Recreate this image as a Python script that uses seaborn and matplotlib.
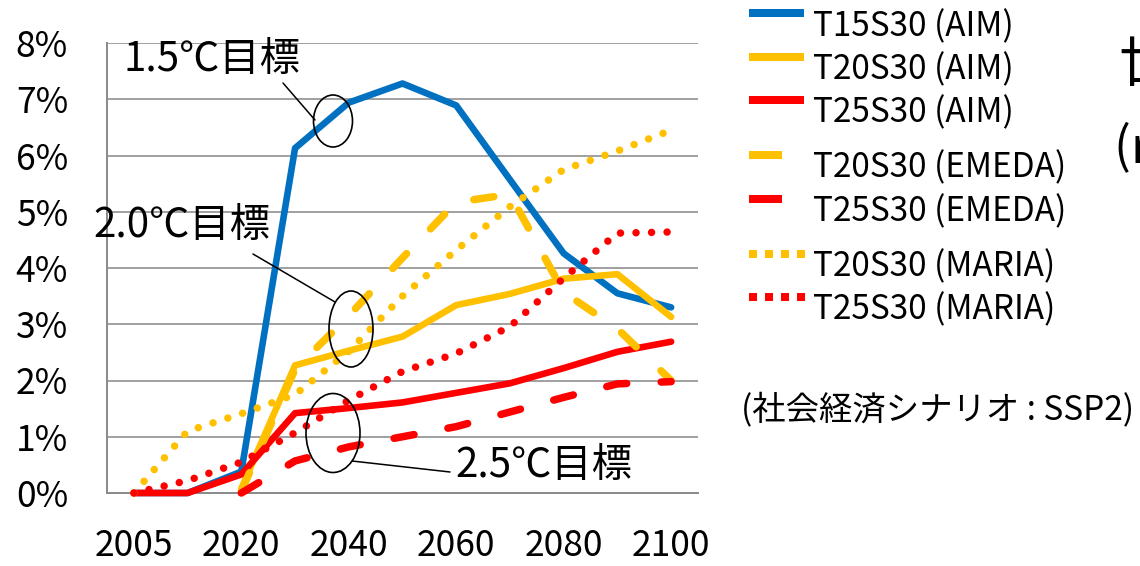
import numpy as np
import matplotlib
matplotlib.use("Agg")
import matplotlib.pyplot as plt
from matplotlib.lines import Line2D
from matplotlib.patches import Ellipse
import seaborn as sns

# ---- data -------------------------------------------------------------
years = ["2005", "2010", "2020", "2030", "2040", "2050",
         "2060", "2070", "2080", "2090", "2100"]
nan = np.nan
t15s30_aim = [0.0, 0.0, 0.38, 6.13, 6.94, 7.28, 6.89, 5.57, 4.26, 3.55, 3.30]
t20s30_aim = [nan, nan, 0.08, 2.27, 2.53, 2.78, 3.34, 3.54, 3.81, 3.89, 3.13]
t25s30_aim = [0.0, 0.0, 0.33, 1.42, 1.51, 1.61, 1.78, 1.95, 2.22, 2.51, 2.69]
t20s30_emeda = [nan, nan, 0.03, 2.20, 3.15, 4.18, 5.17, 5.31, 3.57, 2.92, 2.00]
t25s30_emeda = [nan, nan, 0.00, 0.57, 0.82, 1.00, 1.18, 1.44, 1.70, 1.94, 1.98]
t20s30_maria = [0.0, 1.10, 1.41, 1.75, 2.52, 3.50, 4.32, 5.09, 5.75, 6.08, 6.45]
t25s30_maria = [0.0, 0.22, 0.55, 1.07, 1.65, 2.16, 2.48, 2.96, 3.82, 4.62, 4.64]

series_labels = ["T15S30 (AIM)", "T20S30 (AIM)", "T25S30 (AIM)",
                 "T20S30 (EMEDA)", "T25S30 (EMEDA)",
                 "T20S30 (MARIA)", "T25S30 (MARIA)"]
y_ticks = [0, 1, 2, 3, 4, 5, 6, 7, 8]

BLUE, GOLD, RED = "#0070C0", "#FFC000", "#FF0000"

# ---- style ------------------------------------------------------------
sns.set_theme(style="white")
plt.rcParams["font.family"] = ["Noto Sans CJK JP", "DejaVu Sans"]

W, H = 1140, 566
fig = plt.figure(figsize=(W / 100, H / 100), dpi=100)
fig.patch.set_facecolor("white")


def fx(px):
    return px / W


def fy(py):
    return 1 - py / H


ax = fig.add_axes([fx(107), fy(493), fx(698) - fx(107), fy(43) - fy(493)])
ax.set_facecolor("white")

pos = np.arange(len(years))
PT = 0.72  # points per pixel at 100 dpi
solid_lw = 6.6 * PT
broken_lw = 7.5 * PT

specs = [
    (t15s30_aim, BLUE, "-", solid_lw),
    (t20s30_aim, GOLD, "-", solid_lw),
    (t25s30_aim, RED, "-", solid_lw),
    (t20s30_emeda, GOLD, (0, (2.7, 4.6)), broken_lw),
    (t25s30_emeda, RED, (0, (2.7, 4.6)), broken_lw),
    (t20s30_maria, GOLD, (0, (0.001, 2.07)), broken_lw),
    (t25s30_maria, RED, (0, (0.001, 2.07)), broken_lw),
]

for z, (vals, color, ls, lw) in enumerate(specs):
    sns.lineplot(x=pos, y=np.array(vals, dtype=float), ax=ax, color=color,
                 linestyle=ls, linewidth=lw, solid_capstyle="round",
                 solid_joinstyle="round", dash_capstyle="round",
                 legend=False, clip_on=False, zorder=3 + z, sort=False)

# ---- axes -------------------------------------------------------------
ax.set_xlim(-0.5, len(years) - 0.5)
ax.set_ylim(0, 8)
ax.set_yticks(y_ticks)
ax.set_yticklabels([f"{v}%" for v in y_ticks])
ax.set_xticks(pos[::2])
ax.set_xticklabels(years[::2])
ax.grid(axis="y", color="#8c8c8c", linewidth=1.6 * PT)
ax.grid(axis="x", visible=False)
ax.set_axisbelow(True)
for side in ["top", "right"]:
    ax.spines[side].set_visible(False)
for side in ["left", "bottom"]:
    ax.spines[side].set_color("#8c8c8c")
    ax.spines[side].set_linewidth(2 * PT)
ax.tick_params(axis="y", length=0, pad=28, labelsize=25.5, labelcolor="black")
ax.tick_params(axis="x", length=0, pad=25, labelsize=25.5, labelcolor="black")
ax.set_xlabel("")
ax.set_ylabel("")

# ---- target annotations ------------------------------------------------
def px2data(px, py):
    return ((px - 107) / (591 / 11) - 0.5, (493 - py) / (450 / 8))


for (cx, cy, w, h) in [(333, 121, 39, 52), (351, 329, 44, 76), (333, 433, 54, 79)]:
    dx, dy = px2data(cx, cy)
    ax.add_patch(Ellipse((dx, dy), w / (591 / 11), h / (450 / 8), fill=False,
                         edgecolor="black", linewidth=1.2, zorder=20,
                         clip_on=False))

for (x0, y0, x1, y1) in [(283, 83, 315, 120), (253, 254, 335, 302),
                         (352, 461, 450, 472)]:
    a = px2data(x0, y0)
    b = px2data(x1, y1)
    ax.add_line(Line2D([a[0], b[0]], [a[1], b[1]], color="black",
                       linewidth=1.1, zorder=20, clip_on=False))

for (tx, ty, txt) in [(212, 60, "1.5℃目標"), (182, 226, "2.0℃目標"),
                      (544, 466, "2.5℃目標")]:
    dx, dy = px2data(tx, ty)
    ax.text(dx, dy, txt, fontsize=29, ha="center", va="center",
            color="black", zorder=21)

# ---- legend -------------------------------------------------------------
legend_rows = [
    (13, 27, BLUE, "solid", 804),
    (57, 70, GOLD, "solid", 804),
    (100, 113, RED, "solid", 804),
    (155, 168, GOLD, "dash", 782),
    (199, 212, RED, "dash", 782),
    (254, 267, GOLD, "dot", 805),
    (297, 310, RED, "dot", 805),
]
leg_lw = 8 * PT
for (ly, ty, color, kind, xend), label in zip(legend_rows, series_labels):
    line = Line2D([fx(749), fx(xend)], [fy(ly), fy(ly)], color=color,
                  linewidth=leg_lw, solid_capstyle="butt",
                  dash_capstyle="butt", transform=fig.transFigure)
    if kind == "dot":
        line.set_linestyle((0, (1, 1)))
    fig.add_artist(line)
    fig.text(fx(813), fy(ty), label, fontsize=24, ha="left", va="center",
             color="black")

fig.text(fx(741), fy(410), "(社会経済シナリオ : SSP2)", fontsize=24,
         ha="left", va="center", color="black")

# chart heading on the right
fig.text(fx(1118), fy(66), "世界GDP損失率", fontsize=40, ha="left",
         va="center", color="black")
fig.text(fx(1114), fy(148), "(rel. to baseline)", fontsize=36, ha="left",
         va="center", color="black")

fig.savefig("out.png", dpi=100, facecolor="white")
